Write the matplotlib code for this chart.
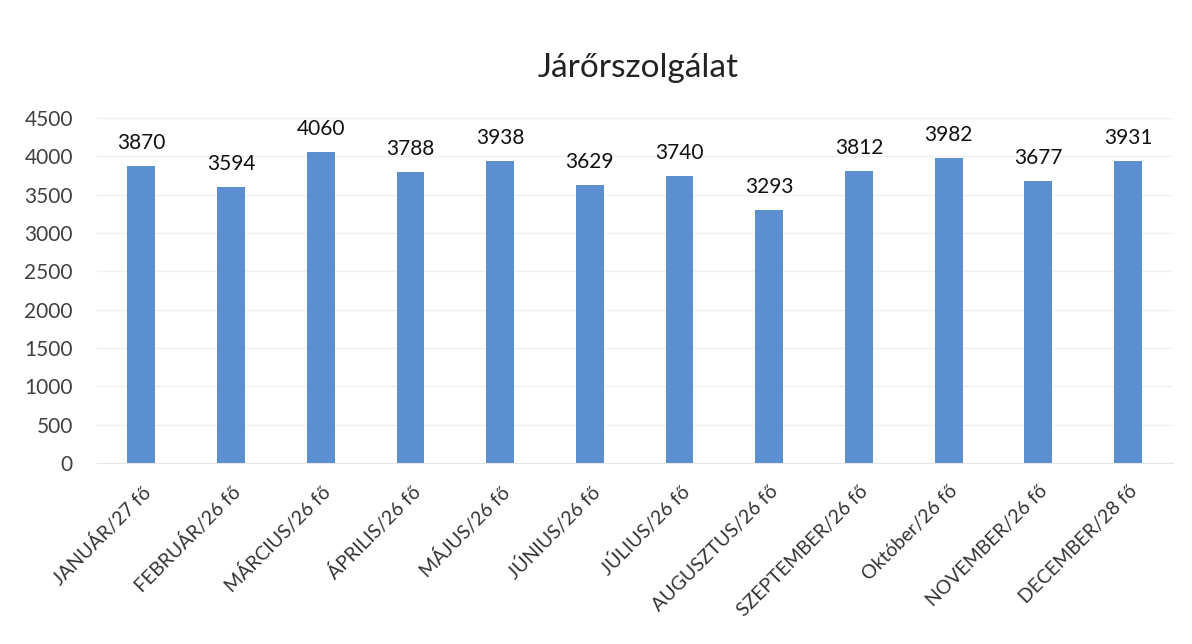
import matplotlib.pyplot as plt
import numpy as np

title = "Járőrszolgálat"
months = ["JANUÁR/27 fő", "FEBRUÁR/26 fő", "MÁRCIUS/26 fő", "ÁPRILIS/26 fő",
          "MÁJUS/26 fő", "JÚNIUS/26 fő", "JÚLIUS/26 fő", "AUGUSZTUS/26 fő",
          "SZEPTEMBER/26 fő", "Október/26 fő", "NOVEMBER/26 fő", "DECEMBER/28 fő"]
values = [3870, 3594, 4060, 3788, 3938, 3629, 3740, 3293, 3812, 3982, 3677, 3931]
yticks = [0, 500, 1000, 1500, 2000, 2500, 3000, 3500, 4000, 4500]

plt.rcParams['font.family'] = ['Lato', 'DejaVu Sans']

fig = plt.figure(figsize=(11.92, 6.44), dpi=100)
ax = fig.add_axes([0.081, 0.281, 0.903, 0.536])

x = np.arange(len(months))
ax.bar(x, values, width=0.31, color='#5b8fd0', zorder=2)
for xi, v in zip(x, values):
    ax.text(xi, v + 170, str(v), ha='center', va='bottom', fontsize=15, color='#111111')

ax.set_ylim(0, 4500)
ax.set_xlim(-0.5, len(months) - 0.5)
ax.set_yticks(yticks)
ax.set_xticks(x)
ax.set_xticklabels(months, rotation=45, ha='right', rotation_mode='anchor', fontsize=14, color='#333333')
ax.tick_params(axis='y', labelsize=15, labelcolor='#404040', length=0, pad=17)
ax.tick_params(axis='x', length=0, pad=14)
ax.yaxis.grid(True, color='#f0f0f0', linewidth=1, zorder=0)
for s in ['top', 'right', 'left']:
    ax.spines[s].set_visible(False)
ax.spines['bottom'].set_color('#e6e6e6')

fig.text(0.535, 0.895, title, ha='center', va='center', fontsize=24, color='#222222')

fig.savefig('out.png', dpi=100)
